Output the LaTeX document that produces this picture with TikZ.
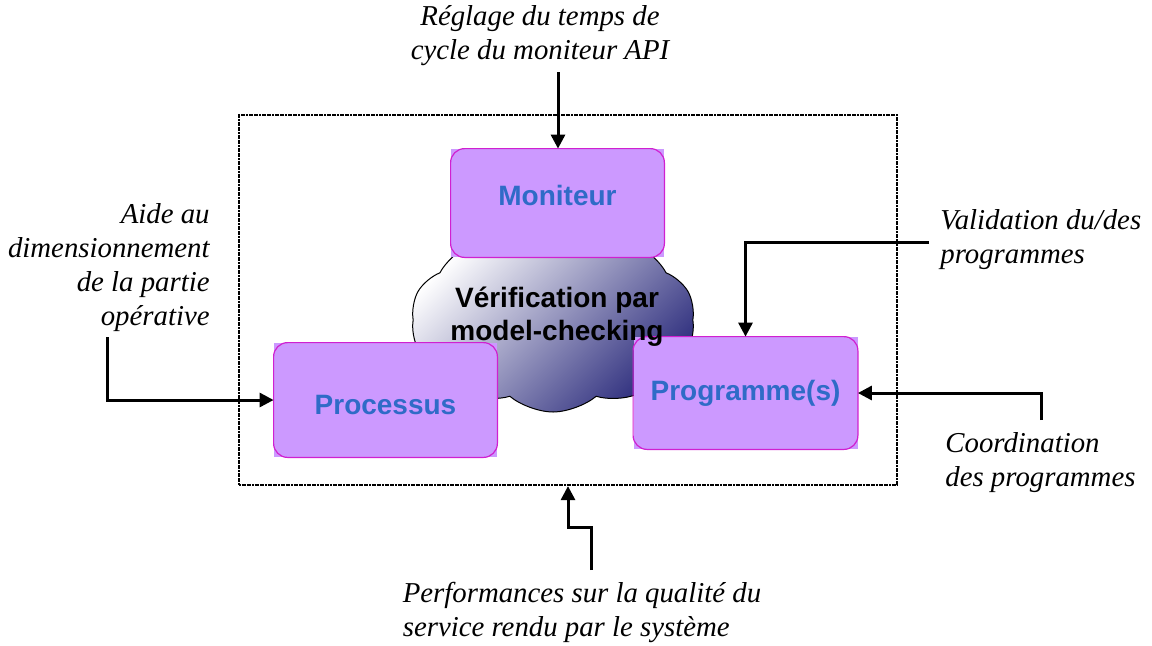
\documentclass[tikz,border=0pt]{standalone}
\usepackage{fontspec}
\setmainfont{Liberation Serif}
\setsansfont{Liberation Sans}
\usepackage{xcolor}
\usetikzlibrary{
arrows.meta,
shapes,
shapes.symbols,
positioning
}
\definecolor{boxfill}{RGB}{204,153,255}
\definecolor{boxline}{RGB}{208,32,208}
\definecolor{boxtext}{RGB}{47,107,199}
\definecolor{cloudmid}{RGB}{200,200,215}
\definecolor{cloudnavy}{RGB}{45,45,125}

\tikzset{
  bloc/.style={fill=boxfill, minimum width=112pt, minimum height=56pt, inner sep=0pt,
    font=\sffamily\bfseries\fontsize{14}{16}\selectfont, text=boxtext},
  blocline/.style={draw=boxline, line width=0.6pt, rounded corners=7pt},
  legende/.style={font=\itshape\fontsize{14.4}{17}\selectfont, inner sep=0pt},
  fleche/.style={-{Triangle[length=7pt,width=7pt]}, line width=1.5pt}
}

\begin{document}
\begin{tikzpicture}[x=0.5pt,y=-0.5pt]
    \useasboundingbox (0,0) rectangle (1152,645);
    \node[draw, line width=1.1pt, dash pattern=on 1pt off 0.3pt, inner sep=0pt,
      minimum width=329pt, minimum height=185pt] (cadre) at (568,300) {};

    \node[cloud, cloud puffs=10, cloud puff arc=80, cloud ignores aspect, draw, line width=0.5pt,
      shading=axis, top color=white, middle color=cloudmid, bottom color=cloudnavy, shading angle=45,
      minimum width=142pt, minimum height=92pt, inner sep=0pt] (nuage) at (553,320) {};

    \node[bloc, minimum width=106.5pt, minimum height=54pt, text depth=8pt] (moniteur) at (557.5,203) {Moniteur};
    \node[bloc, minimum width=111.5pt, minimum height=57pt, text height=15pt] (processus) at (385.5,400) {Processus};
    \node[bloc] (programme) at (745.5,393) {Programme(s)};
    \foreach \n in {moniteur,processus,programme}
        \draw[blocline] (\n.south west) rectangle (\n.north east);

    \node[align=center, font=\sffamily\bfseries\fontsize{14}{16.5}\selectfont, inner sep=0pt]
      (verif) at (557,317) {Vérification par\\model-checking};

    \node[legende, align=center] (reglage) at (540,36) {Réglage du temps de\\cycle du moniteur API};
    \coordinate (reglage-pied) at (558,72);
    \draw[fleche] (reglage-pied) -- (reglage-pied |- moniteur.north);

    \node[legende, align=right, anchor=east] (aide) at (210,268) {Aide au\\dimensionnement\\de la partie\\opérative};
    \coordinate (aide-pied) at (107,337);
    \draw[fleche] (aide-pied) |- (processus.west);

    \node[legende, align=left, anchor=west] (validation) at (940,240) {Validation du/des\\programmes};
    \coordinate (validation-pied) at (929,242);
    \draw[fleche] (validation-pied) -| (programme.north);

    \node[legende, align=left, anchor=west] (coordination) at (945,463) {Coordination\\des programmes};
    \coordinate (coordination-pied) at (1041,420);
    \draw[fleche] (coordination-pied) |- (programme.east);

    \node[legende, align=left] (perf) at (582,612) {Performances sur la qualité du\\service rendu par le système};
    \coordinate (perf-pied) at (591,570);
    \draw[fleche] (perf-pied) -- ++(0,-43) -| (cadre.south);
\end{tikzpicture}
\end{document}
